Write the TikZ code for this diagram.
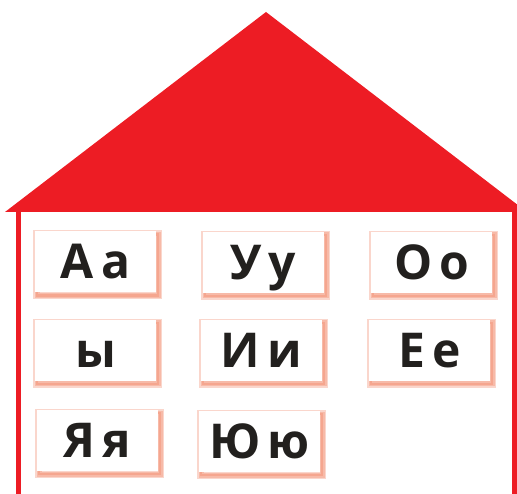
\documentclass[tikz,border=0pt]{standalone}
\usepackage{fontspec}
\setmainfont{Open Sans}
\definecolor{roofred}{RGB}{237,28,36}
\definecolor{boxshadow}{RGB}{240,120,85}
\definecolor{letterink}{RGB}{34,32,30}
\begin{document}
\begin{tikzpicture}[x=1pt,y=-1pt,
  glow/.style={preaction={draw=boxshadow,line width=#1,opacity=0.3,
    transform canvas={xshift=2pt,yshift=-3pt}}},
  letterbox/.style={fill=white,minimum width=121pt,minimum height=61pt,inner sep=0pt,
    text height=34pt,text depth=0pt,text=letterink,
    font=\fontsize{48}{48}\bfseries\selectfont,
    glow=8pt,glow=5pt,glow=2.5pt}]
\useasboundingbox (0,0) rectangle (517,494);
% walls
\draw[roofred,line width=5pt] (18.7,212) -- (18.7,494);
\draw[roofred,line width=5pt] (514,212) -- (514,494);
% roof
\fill[roofred] (5,212) -- (266,12) -- (517,204.4) -- (517,212) -- cycle;
% letters
\node[letterbox] (aa) at (95.5,262) {А\kern7pt а};
\node[letterbox] (uu) at (263.5,262.5) {У\kern7pt у};
\node[letterbox] (oo) at (431.5,262.5) {О\kern7pt о};
\node[letterbox] (y) at (95.5,350.5) {ы};
\node[letterbox] (ii) at (261.5,350.5) {И\kern7pt и};
\node[letterbox] (ee) at (429.5,350.5) {Е\kern7pt е};
\node[letterbox] (ya) at (97.5,440.5) {Я\kern7pt я};
\node[letterbox] (yu) at (259.5,441.5) {Ю\kern7pt ю};
\end{tikzpicture}
\end{document}
